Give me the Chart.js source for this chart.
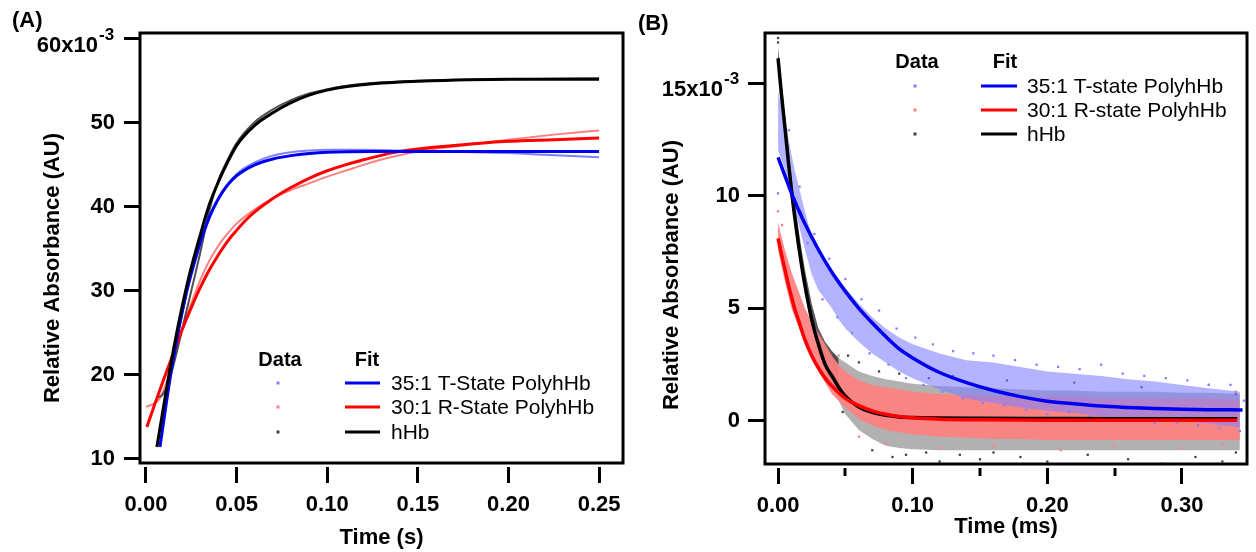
<!DOCTYPE html>
<html>
<head>
<meta charset="utf-8">
<script src="https://cdn.jsdelivr.net/npm/chart.js@4.4.1/dist/chart.umd.min.js"></script>
<style>
  html, body { margin: 0; padding: 0; background: #fff; }
  #wrap { position: relative; width: 1256px; height: 552px; }
  canvas { position: absolute; top: 0; }
  #chartA { left: 0; }
  #chartB { left: 630px; }
</style>
</head>
<body>
<div id="wrap">
  <canvas id="chartA" width="630" height="552"></canvas>
  <canvas id="chartB" width="626" height="552"></canvas>
</div>
<script>
const FONT = '"Liberation Sans", Arial, Helvetica, sans-serif';

// ---- panel A : rise (time in s, values x10^-3) ----
const aXTicks = [0, 0.05, 0.10, 0.15, 0.20, 0.25];
const aYTicks = [10, 20, 30, 40, 50, 60];
const aLabels = ['35:1 T-State PolyhHb', '30:1 R-State PolyhHb', 'hHb'];

const aBlueFitT = [0.0077, 0.010, 0.0125, 0.015, 0.0175, 0.020, 0.0225, 0.025, 0.0275, 0.030, 0.035, 0.040, 0.045, 0.050, 0.060, 0.070, 0.080, 0.090, 0.100, 0.125, 0.150, 0.200, 0.250];
const aBlueFit  = [11.4, 14.8, 18.5, 21.8, 24.8, 27.5, 30.0, 32.1, 34.0, 35.8, 38.8, 41.0, 42.6, 43.7, 45.0, 45.7, 46.1, 46.35, 46.5, 46.6, 46.6, 46.6, 46.6];
const aRedFitT  = [0.0005, 0.005, 0.010, 0.015, 0.020, 0.025, 0.030, 0.035, 0.040, 0.045, 0.050, 0.055, 0.060, 0.070, 0.080, 0.090, 0.100, 0.110, 0.120, 0.135, 0.150, 0.175, 0.200, 0.225, 0.250];
const aRedFit   = [13.8, 16.6, 19.6, 22.5, 25.4, 28.0, 30.4, 32.5, 34.3, 35.9, 37.2, 38.4, 39.4, 41.0, 42.3, 43.4, 44.3, 45.0, 45.6, 46.4, 46.9, 47.4, 47.8, 48.0, 48.2];
const aBlackFitT = [0.006, 0.010, 0.0125, 0.015, 0.0175, 0.020, 0.0225, 0.025, 0.030, 0.035, 0.040, 0.045, 0.050, 0.060, 0.070, 0.080, 0.090, 0.100, 0.110, 0.125, 0.150, 0.200, 0.250];
const aBlackFit  = [11.4, 16.6, 19.8, 22.8, 25.6, 28.2, 30.6, 32.8, 36.7, 40.3, 43.0, 45.3, 47.3, 49.7, 51.2, 52.4, 53.3, 53.9, 54.3, 54.65, 54.95, 55.2, 55.2];

const aBlueDataT = [0.008, 0.012, 0.016, 0.020, 0.025, 0.030, 0.035, 0.040, 0.050, 0.060, 0.070, 0.080, 0.090, 0.100, 0.120, 0.140, 0.160, 0.180, 0.200, 0.220, 0.250];
const aBlueData  = [12.0, 18.0, 23.0, 27.3, 31.8, 35.5, 38.6, 40.9, 43.9, 45.3, 46.1, 46.5, 46.7, 46.8, 46.8, 46.7, 46.6, 46.5, 46.4, 46.2, 45.9];
const aRedDataT  = [0.000, 0.004, 0.007, 0.010, 0.013, 0.016, 0.020, 0.025, 0.030, 0.035, 0.040, 0.045, 0.050, 0.060, 0.070, 0.080, 0.090, 0.100, 0.110, 0.120, 0.135, 0.150, 0.175, 0.200, 0.225, 0.250];
const aRedData   = [16.2, 16.5, 17.0, 18.3, 20.2, 22.5, 25.4, 28.5, 31.3, 33.6, 35.4, 36.8, 38.0, 39.7, 41.0, 42.0, 42.8, 43.6, 44.3, 45.0, 45.9, 46.6, 47.3, 48.0, 48.6, 49.1];
const aBlackDataT = [0.006, 0.009, 0.012, 0.015, 0.018, 0.021, 0.025, 0.030, 0.035, 0.040, 0.045, 0.050, 0.060, 0.070, 0.080, 0.090, 0.100, 0.110, 0.125, 0.150, 0.200, 0.250];
const aBlackData  = [17.3, 17.6, 18.8, 21.0, 23.6, 26.4, 30.0, 34.6, 39.6, 43.2, 45.6, 47.6, 50.1, 51.6, 52.7, 53.5, 54.0, 54.4, 54.75, 55.0, 55.2, 55.3];

// ---- panel B : decay (time in ms, values x10^-3) ----
const bXTicks = [0, 0.05, 0.10, 0.15, 0.20, 0.25, 0.30];
const bYTicks = [0, 5, 10, 15];
const bLabels = ['35:1 T-state PolyhHb', '30:1 R-state PolyhHb', 'hHb'];

const bBlueFitT = [0, 0.005, 0.01, 0.015, 0.02, 0.03, 0.04, 0.05, 0.06, 0.07, 0.08, 0.09, 0.1, 0.12, 0.14, 0.16, 0.18, 0.2, 0.22, 0.24, 0.26, 0.28, 0.3, 0.32, 0.345];
const bBlueFit  = [11.7, 10.9, 10.1, 9.4, 8.75, 7.6, 6.6, 5.75, 5.0, 4.35, 3.75, 3.2, 2.8, 2.15, 1.7, 1.35, 1.08, 0.88, 0.76, 0.66, 0.6, 0.55, 0.52, 0.5, 0.49];
const bRedFitT  = [0, 0.0025, 0.005, 0.0075, 0.01, 0.0125, 0.015, 0.02, 0.025, 0.03, 0.035, 0.04, 0.05, 0.06, 0.07, 0.08, 0.09, 0.1, 0.12, 0.15, 0.2, 0.25, 0.3, 0.341];
const bRedFit   = [8.1, 7.4, 6.75, 6.1, 5.5, 4.95, 4.5, 3.6, 2.9, 2.35, 1.9, 1.55, 1.0, 0.68, 0.45, 0.3, 0.2, 0.14, 0.08, 0.05, 0.03, 0.03, 0.03, 0.03];
const bBlackFitT = [0, 0.0025, 0.005, 0.0075, 0.01, 0.0125, 0.015, 0.0175, 0.02, 0.025, 0.03, 0.035, 0.04, 0.045, 0.05, 0.06, 0.07, 0.08, 0.09, 0.1, 0.12, 0.15, 0.2, 0.25, 0.3, 0.341];
const bBlackFit  = [16.1, 14.5, 13.1, 11.6, 10.2, 9.0, 7.9, 6.9, 6.0, 4.5, 3.4, 2.5, 2.0, 1.5, 1.1, 0.62, 0.38, 0.25, 0.18, 0.15, 0.13, 0.12, 0.11, 0.1, 0.1, 0.1];

// spread of the noisy data clouds (upper / lower edge)
const bBandT  = [0, 0.0025, 0.005, 0.0075, 0.01, 0.0125, 0.015, 0.0175, 0.02, 0.025, 0.03, 0.035, 0.04, 0.045, 0.05, 0.06, 0.07, 0.08, 0.09, 0.10, 0.12, 0.14, 0.16, 0.18, 0.20, 0.22, 0.24, 0.26, 0.28, 0.30, 0.32, 0.343];
const bBlueHi = [14.6, 14.0, 13.3, 12.6, 11.8, 11.1, 10.5, 9.9, 9.3, 8.2, 7.5, 7.1, 6.7, 6.3, 5.9, 5.2, 4.6, 4.1, 3.7, 3.4, 3.0, 2.7, 2.6, 2.4, 2.2, 2.1, 2.0, 1.85, 1.75, 1.6, 1.45, 1.3];
const bBlueLo = [12.0, 11.6, 11.2, 10.6, 10.0, 9.4, 8.8, 8.2, 7.6, 6.5, 5.8, 5.4, 5.0, 4.5, 4.1, 3.5, 3.0, 2.6, 2.2, 1.9, 1.4, 1.0, 0.8, 0.6, 0.45, 0.35, 0.2, 0.1, 0.05, 0.0, -0.1, -0.3];
const bRedHi  = [8.8, 8.2, 7.6, 7.1, 6.6, 6.2, 5.8, 5.4, 5.0, 4.4, 3.9, 3.4, 2.9, 2.5, 2.2, 1.8, 1.6, 1.5, 1.4, 1.3, 1.2, 1.15, 1.1, 1.1, 1.05, 1.05, 1.0, 1.0, 1.0, 1.0, 1.0, 0.95];
const bRedLo  = [7.6, 6.9, 6.2, 5.6, 5.0, 4.6, 4.2, 3.8, 3.4, 2.8, 2.2, 1.7, 1.2, 0.9, 0.6, 0.1, -0.2, -0.4, -0.5, -0.6, -0.7, -0.75, -0.8, -0.8, -0.85, -0.85, -0.85, -0.85, -0.85, -0.85, -0.85, -0.85];
const bBlackDenseT  = [0, 0.0025, 0.005, 0.0075, 0.01, 0.0125, 0.015, 0.0175, 0.02, 0.025, 0.03, 0.035, 0.04, 0.045];
const bBlackDenseHi = [16.6, 15.1, 13.6, 12.2, 10.9, 9.7, 8.6, 7.6, 6.7, 5.2, 4.1, 3.5, 3.1, 2.8];
const bBlackDenseLo = [15.8, 14.1, 12.5, 11.1, 9.8, 8.6, 7.5, 6.6, 5.7, 4.2, 3.0, 2.3, 1.7, 1.2];
const bBlackSparseT  = [0.04, 0.05, 0.06, 0.07, 0.08, 0.09, 0.10, 0.12, 0.14, 0.16, 0.18, 0.20, 0.22, 0.24, 0.26, 0.28, 0.30, 0.32, 0.343];
const bBlackSparseHi = [3.0, 2.6, 2.2, 2.0, 1.85, 1.75, 1.65, 1.55, 1.5, 1.45, 1.4, 1.35, 1.35, 1.3, 1.3, 1.3, 1.25, 1.25, 1.2];
const bBlackSparseLo = [1.5, 0.3, -0.4, -0.8, -1.1, -1.2, -1.25, -1.3, -1.3, -1.3, -1.3, -1.3, -1.3, -1.3, -1.3, -1.3, -1.3, -1.3, -1.3];

// stray points round the clouds
const bBlueOutT = [0.000, 0.002, 0.004, 0.008, 0.012, 0.016, 0.022, 0.027, 0.033, 0.038, 0.044, 0.050, 0.055, 0.062, 0.068, 0.075, 0.082, 0.088, 0.095, 0.102, 0.108, 0.115, 0.122, 0.130, 0.137, 0.145, 0.152, 0.160, 0.168, 0.176, 0.184, 0.192, 0.200, 0.208, 0.216, 0.224, 0.232, 0.240, 0.248, 0.256, 0.264, 0.272, 0.280, 0.288, 0.296, 0.304, 0.312, 0.320, 0.328, 0.336, 0.343, 0.346];
const bBlueOut  = [10.1, 14.9, 11.0, 12.9, 9.9, 10.4, 7.9, 8.3, 5.4, 7.2, 4.6, 6.3, 3.9, 5.4, 3.0, 4.9, 2.5, 4.1, 1.9, 3.7, 1.6, 3.4, 1.3, 3.1, 1.0, 3.0, 0.8, 2.9, 0.7, 2.7, 0.5, 2.5, 0.3, 2.4, 0.4, 2.3, 0.2, 2.5, 0.1, 2.1, 0.0, 2.0, -0.1, 1.9, -0.1, 1.8, -0.2, 1.6, -0.3, 1.6, -0.45, 0.9];
const bRedOutT  = [0.000, 0.003, 0.045, 0.060, 0.080, 0.120, 0.160, 0.210, 0.250, 0.300, 0.330, 0.340];
const bRedOut   = [9.3, 8.7, 2.9, -0.7, -1.0, -1.2, -1.1, -1.3, -1.1, -1.2, -1.0, 1.3];
const bBlackOutT = [0.000, 0.000, 0.048, 0.052, 0.060, 0.070, 0.075, 0.085, 0.090, 0.095, 0.110, 0.112, 0.120, 0.130, 0.135, 0.150, 0.160, 0.170, 0.180, 0.200, 0.220, 0.230, 0.260, 0.270, 0.285, 0.310, 0.320, 0.330, 0.340, 0.340];
const bBlackOut  = [17.0, 16.8, 0.4, 2.9, 2.6, -1.3, 2.2, -1.6, 2.1, -1.5, -1.4, 1.9, -1.8, 2.0, -1.5, -1.7, -1.4, 1.8, -1.6, -1.8, 1.7, -1.5, -1.7, 1.5, -1.9, -1.6, 1.6, -1.8, -1.4, 1.2];

// colours
const FIT_COLORS = ['#0000f0', '#ff0000', '#000000'];
const DATA_COLORS = ['#8080ff', '#ff8080', '#404040'];

Chart.defaults.font.family = FONT;

const pts = (xs, ys) => xs.map((x, i) => ({ x: x, y: ys[i] }));

function fitLine(xs, ys, color, order, width) {
    return { data: pts(xs, ys), borderColor: color, borderWidth: width, pointRadius: 0,
             cubicInterpolationMode: 'monotone', fill: false, order: order };
}
function dataLine(xs, ys, color, order) {
    return { data: pts(xs, ys), borderColor: color, borderWidth: 2, pointRadius: 0,
             cubicInterpolationMode: 'monotone', fill: false, order: order };
}
function band(xs, lo, hi, color, order) {
    return [
        { data: pts(xs, lo), borderWidth: 0, borderColor: 'rgba(0,0,0,0)', pointRadius: 0, fill: false, order: order },
        { data: pts(xs, hi), borderWidth: 0, borderColor: 'rgba(0,0,0,0)', pointRadius: 0, fill: '-1', backgroundColor: color, order: order }
    ];
}
function strays(xs, ys, color, order) {
    return { data: pts(xs, ys), showLine: false, pointStyle: 'rect', pointRadius: 1.6,
             pointBorderWidth: 0, pointBackgroundColor: color, order: order };
}

// frame, titles, exponent label, minor ticks and the two-column legend
const panelDecor = {
    id: 'panelDecor',
    afterDatasetsDraw(chart, args, o) {
        const { ctx, chartArea: a } = chart;
        ctx.save();
        ctx.strokeStyle = '#000';
        ctx.lineWidth = 3;
        ctx.strokeRect(a.left, a.top, a.right - a.left, a.bottom - a.top);
        ctx.restore();
    },
    afterDraw(chart, args, o) {
        const { ctx, chartArea: a, scales } = chart;
        ctx.save();
        ctx.fillStyle = '#000';
        ctx.font = 'bold 22px ' + FONT;
        ctx.textAlign = 'left';
        ctx.textBaseline = 'middle';
        ctx.fillText(o.letter, o.letterX, o.letterY);

        ctx.textAlign = 'center';
        ctx.fillText(o.xTitle, (a.left + a.right) / 2, a.bottom + o.xTitleDy);
        ctx.save();
        ctx.translate(o.yTitleX, o.yTitleY);
        ctx.rotate(-Math.PI / 2);
        ctx.fillText('Relative Absorbance (AU)', 0, 0);
        ctx.restore();

        // top tick label with x10^-3
        const yt = scales.y.getPixelForValue(o.expTick);
        ctx.textAlign = 'right';
        ctx.textBaseline = 'alphabetic';
        ctx.fillText(o.expTick + 'x10', a.left - 42, yt + 13);
        ctx.font = 'bold 17px ' + FONT;
        ctx.textAlign = 'left';
        ctx.fillText('-3', a.left - 41, yt + 1);

        // short minor ticks
        ctx.strokeStyle = '#000';
        ctx.lineWidth = 3;
        (o.minor || []).forEach(v => {
            const x = Math.round(scales.x.getPixelForValue(v));
            ctx.beginPath();
            ctx.moveTo(x, a.bottom + 4);
            ctx.lineTo(x, a.bottom + 12);
            ctx.stroke();
        });

        // legend
        const L = o.legend;
        ctx.fillStyle = '#000';
        ctx.font = 'bold 20px ' + FONT;
        ctx.textAlign = 'center';
        ctx.textBaseline = 'middle';
        ctx.fillText('Data', L.dataHeadX, L.headY);
        ctx.fillText('Fit', L.fitHeadX, L.headY);
        ctx.font = '21px ' + FONT;
        ctx.textAlign = 'left';
        L.labels.forEach((lab, i) => {
            const y = L.rowY[i];
            ctx.fillStyle = DATA_COLORS[i];
            ctx.fillRect(L.markX - 1.5, y - 1.5, 3, 3);
            ctx.strokeStyle = FIT_COLORS[i];
            ctx.lineWidth = 3;
            ctx.beginPath();
            ctx.moveTo(L.lineX0, y);
            ctx.lineTo(L.lineX1, y);
            ctx.stroke();
            ctx.fillStyle = '#000';
            ctx.fillText(lab, L.textX, y + 1);
        });
        ctx.restore();
    }
};

function axisTicksFont() {
    return { size: 22, weight: 'bold' };
}

// ---------- chart A ----------
new Chart(document.getElementById('chartA'), {
    type: 'line',
    data: {
        datasets: [
            fitLine(aBlackFitT, aBlackFit, FIT_COLORS[2], 1, 3),
            fitLine(aBlueFitT, aBlueFit, FIT_COLORS[0], 2, 3),
            fitLine(aRedFitT, aRedFit, FIT_COLORS[1], 3, 3),
            dataLine(aBlackDataT, aBlackData, '#505050', 4),
            dataLine(aRedDataT, aRedData, DATA_COLORS[1], 5),
            dataLine(aBlueDataT, aBlueData, DATA_COLORS[0], 6)
        ]
    },
    options: {
        responsive: false,
        animation: false,
        devicePixelRatio: 1,
        events: [],
        layout: { padding: { left: 0, top: 33, right: 7, bottom: 0 } },
        plugins: {
            legend: { display: false },
            tooltip: { enabled: false },
            panelDecor: {
                letter: '(A)', letterX: 12, letterY: 21,
                xTitle: 'Time (s)', xTitleDy: 75,
                yTitleX: 53, yTitleY: 268,
                expTick: 60,
                legend: {
                    labels: aLabels, headY: 360, dataHeadX: 280, fitHeadX: 367,
                    markX: 278, rowY: [383, 407, 432], lineX0: 345, lineX1: 380, textX: 391
                }
            }
        },
        scales: {
            x: {
                type: 'linear', min: -0.0033, max: 0.2632,
                afterBuildTicks: s => { s.ticks = aXTicks.map(v => ({ value: v })); },
                afterFit: s => { s.height = 89; },
                border: { display: false },
                grid: { drawOnChartArea: false, drawTicks: true, tickLength: 21, tickWidth: 3, tickColor: '#000',
                        tickBorderDash: [16, 100], tickBorderDashOffset: -4 },
                ticks: { color: '#000', font: axisTicksFont(), padding: 8, maxRotation: 0, autoSkip: false,
                         callback: v => v.toFixed(2) }
            },
            y: {
                type: 'linear', min: 9.5, max: 60.7,
                afterBuildTicks: s => { s.ticks = aYTicks.map(v => ({ value: v })); },
                afterFit: s => { s.width = 140; },
                border: { display: false },
                grid: { drawOnChartArea: false, drawTicks: true, tickLength: 16, tickWidth: 3, tickColor: '#000' },
                ticks: { color: '#000', font: axisTicksFont(), padding: 9, autoSkip: false,
                         callback: v => (v === 60 ? '' : String(v)) }
            }
        }
    },
    plugins: [panelDecor]
});

// ---------- chart B ----------
const bSets = [].concat(
    [fitLine(bBlueFitT, bBlueFit, FIT_COLORS[0], 1, 3.5)],
    [fitLine(bRedFitT, bRedFit, FIT_COLORS[1], 2, 3.5)],
    [fitLine(bBlackFitT, bBlackFit, FIT_COLORS[2], 3, 3.5)],
    [strays(bBlueOutT, bBlueOut, DATA_COLORS[0], 5)],
    band(bBandT, bBlueLo, bBlueHi, 'rgba(128,128,255,0.6)', 6),
    [strays(bRedOutT, bRedOut, DATA_COLORS[1], 7)],
    band(bBandT, bRedLo, bRedHi, 'rgba(255,128,128,0.92)', 8),
    [strays(bBlackOutT, bBlackOut, DATA_COLORS[2], 9)],
    band(bBlackDenseT, bBlackDenseLo, bBlackDenseHi, 'rgba(60,60,60,0.85)', 10),
    band(bBlackSparseT, bBlackSparseLo, bBlackSparseHi, 'rgba(70,70,70,0.42)', 11)
);

new Chart(document.getElementById('chartB'), {
    type: 'line',
    data: { datasets: bSets },
    options: {
        responsive: false,
        animation: false,
        devicePixelRatio: 1,
        events: [],
        layout: { padding: { left: 0, top: 33, right: 9, bottom: 0 } },
        plugins: {
            legend: { display: false },
            tooltip: { enabled: false },
            panelDecor: {
                letter: '(B)', letterX: 8, letterY: 24,
                xTitle: 'Time (ms)', xTitleDy: 63,
                yTitleX: 42, yTitleY: 275,
                expTick: 15,
                minor: [0.05, 0.15, 0.25],
                legend: {
                    labels: bLabels, headY: 62, dataHeadX: 287, fitHeadX: 375,
                    markX: 285, rowY: [86, 110, 134], lineX0: 351, lineX1: 387, textX: 397
                }
            }
        },
        scales: {
            x: {
                type: 'linear', min: -0.0097, max: 0.3483,
                afterBuildTicks: s => { s.ticks = bXTicks.map(v => ({ value: v })); },
                afterFit: s => { s.height = 88; },
                border: { display: false },
                grid: { drawOnChartArea: false, drawTicks: true, tickLength: 21, tickWidth: 3,
                        tickColor: c => (Math.round(c.tick.value * 100) % 10 === 0 ? '#000' : 'rgba(0,0,0,0)'),
                        tickBorderDash: [16, 100], tickBorderDashOffset: -4 },
                ticks: { color: '#000', font: axisTicksFont(), padding: 8, maxRotation: 0, autoSkip: false,
                         callback: v => (Math.round(v * 100) % 10 === 0 ? v.toFixed(2) : '') }
            },
            y: {
                type: 'linear', min: -1.91, max: 17.22,
                afterBuildTicks: s => { s.ticks = bYTicks.map(v => ({ value: v })); },
                afterFit: s => { s.width = 135; },
                border: { display: false },
                grid: { drawOnChartArea: false, drawTicks: true, tickLength: 17, tickWidth: 3, tickColor: '#000' },
                ticks: { color: '#000', font: axisTicksFont(), padding: 8, autoSkip: false,
                         callback: v => (v === 15 ? '' : String(v)) }
            }
        }
    },
    plugins: [panelDecor]
});
</script>
</body>
</html>
